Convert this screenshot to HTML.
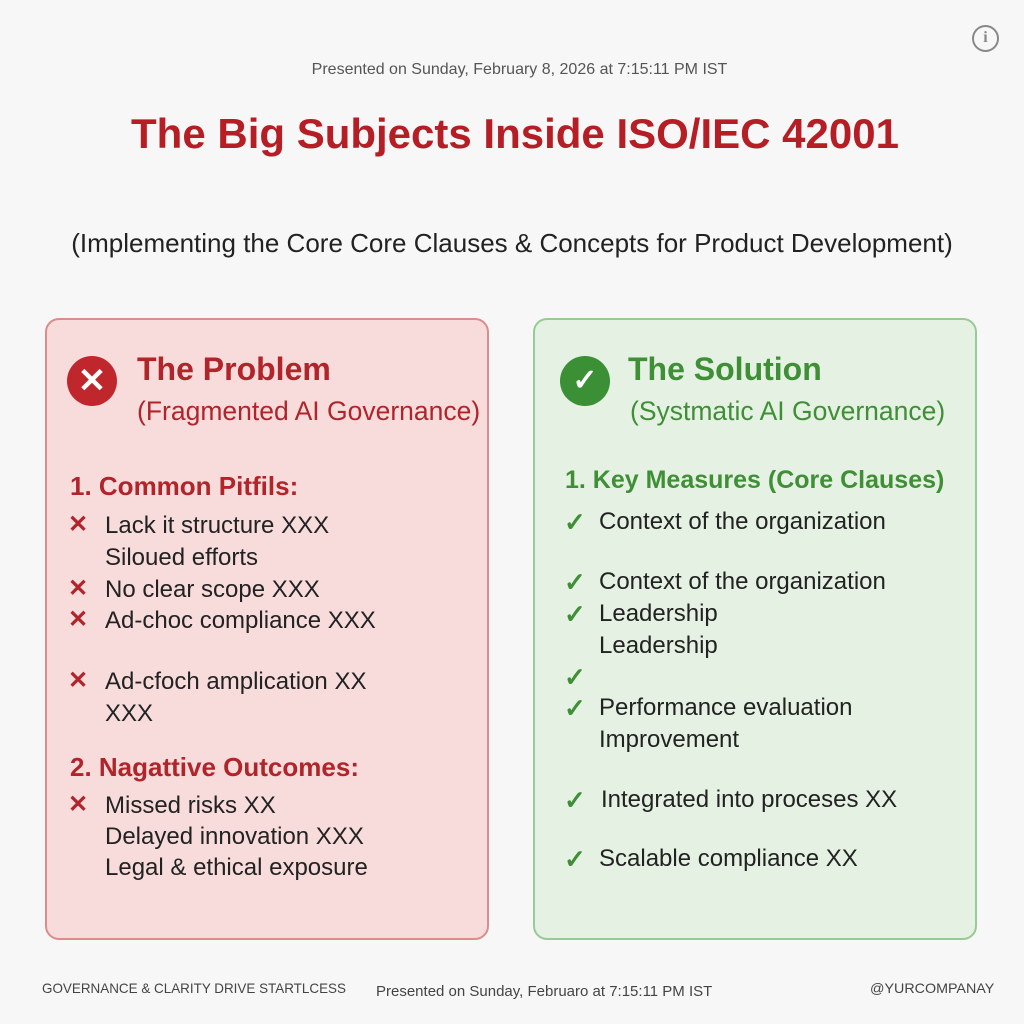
<!DOCTYPE html>
<html><head><style>
body{margin:0;width:1024px;height:1024px;background:#f7f7f7;font-family:"Liberation Sans",Arial,sans-serif;position:relative;overflow:hidden}
.a{position:absolute;white-space:nowrap;line-height:1}
.box{position:absolute;border-radius:14px}
.r{color:#b0242a}.g{color:#3f8f37}
.t{font-size:24px;color:#222}
.m{font-size:24px;font-weight:bold}
</style></head><body>
<div class="a" style="left:972px;top:25px;width:27px;height:27px;border:2.5px solid #888;border-radius:50%;box-sizing:border-box;text-align:center;font:bold 16px 'Liberation Serif',serif;color:#888;line-height:22px">i</div>
<div class="a" style="left:0;width:1039px;top:62px;text-align:center;font-size:16px;color:#555">Presented on Sunday, February 8, 2026 at 7:15:11 PM IST</div>
<div class="a" style="left:0;width:1030px;top:113px;text-align:center;font-size:42px;font-weight:bold;color:#b41e24">The Big Subjects Inside ISO/IEC 42001</div>
<div class="a" style="left:0;width:1024px;top:230px;text-align:center;font-size:26px;color:#222">(Implementing the Core Core Clauses &amp; Concepts for Product Development)</div>

<div class="box" style="left:45px;top:318px;width:440px;height:618px;background:#f8dcdc;border:2px solid #dc8c8c"></div>
<div class="box" style="left:533px;top:318px;width:440px;height:618px;background:#e5f1e2;border:2px solid #99c996"></div>

<div class="a" style="left:67px;top:356px;width:50px;height:50px;border-radius:50%;background:#c0272d;color:#fff;font-size:34px;font-weight:bold;text-align:center;line-height:50px">✕</div>
<div class="a r" style="left:137px;top:353px;font-size:32px;font-weight:bold">The Problem</div>
<div class="a r" style="left:137px;top:398px;font-size:26.5px">(Fragmented AI Governance)</div>
<div class="a r" style="left:70px;top:473px;font-size:26px;font-weight:bold">1. Common Pitfils:</div>
<div class="a r m" style="left:68px;top:513px">✕</div><div class="a t" style="left:105px;top:514px">Lack it structure XXX</div>
<div class="a t" style="left:105px;top:546px">Siloued efforts</div>
<div class="a r m" style="left:68px;top:577px">✕</div><div class="a t" style="left:105px;top:578px">No clear scope XXX</div>
<div class="a r m" style="left:68px;top:608px">✕</div><div class="a t" style="left:105px;top:609px">Ad-choc compliance XXX</div>
<div class="a r m" style="left:68px;top:669px">✕</div><div class="a t" style="left:105px;top:670px">Ad-cfoch amplication XX</div>
<div class="a t" style="left:105px;top:702px">XXX</div>
<div class="a r" style="left:70px;top:754px;font-size:26px;font-weight:bold">2. Nagattive Outcomes:</div>
<div class="a r m" style="left:68px;top:793px">✕</div><div class="a t" style="left:105px;top:794px">Missed risks XX</div>
<div class="a t" style="left:105px;top:825px">Delayed innovation XXX</div>
<div class="a t" style="left:105px;top:856px">Legal &amp; ethical exposure</div>

<div class="a" style="left:560px;top:356px;width:50px;height:50px;border-radius:50%;background:#3b8f35;color:#fff;font-size:30px;font-weight:bold;text-align:center;line-height:50px">✓</div>
<div class="a g" style="left:628px;top:353px;font-size:32px;font-weight:bold">The Solution</div>
<div class="a g" style="left:630px;top:398px;font-size:26.5px">(Systmatic AI Governance)</div>
<div class="a g" style="left:565px;top:468px;font-size:25px;font-weight:bold">1. Key Measures (Core Clauses)</div>
<div class="a g m" style="left:564px;top:509px;font-size:26px">✓</div><div class="a t" style="left:599px;top:510px">Context of the organization</div>
<div class="a g m" style="left:564px;top:569px;font-size:26px">✓</div><div class="a t" style="left:599px;top:570px">Context of the organization</div>
<div class="a g m" style="left:564px;top:601px;font-size:26px">✓</div><div class="a t" style="left:599px;top:602px">Leadership</div>
<div class="a t" style="left:599px;top:634px">Leadership</div>
<div class="a g m" style="left:564px;top:664px;font-size:26px">✓</div>
<div class="a g m" style="left:564px;top:695px;font-size:26px">✓</div><div class="a t" style="left:599px;top:696px">Performance evaluation</div>
<div class="a t" style="left:599px;top:728px">Improvement</div>
<div class="a g m" style="left:564px;top:787px;font-size:26px">✓</div><div class="a t" style="left:601px;top:788px">Integrated into proceses XX</div>
<div class="a g m" style="left:564px;top:846px;font-size:26px">✓</div><div class="a t" style="left:599px;top:847px">Scalable compliance XX</div>

<div class="a" style="left:42px;top:981px;font-size:14px;color:#444;transform:scaleX(0.96);transform-origin:left">GOVERNANCE &amp; CLARITY DRIVE STARTLCESS</div>
<div class="a" style="left:376px;top:984px;font-size:15px;color:#444">Presented on Sunday, Februaro at 7:15:11 PM IST</div>
<div class="a" style="left:870px;top:981px;font-size:14px;color:#444;transform:scaleX(1.02);transform-origin:left">@YURCOMPANAY</div>
</body></html>
